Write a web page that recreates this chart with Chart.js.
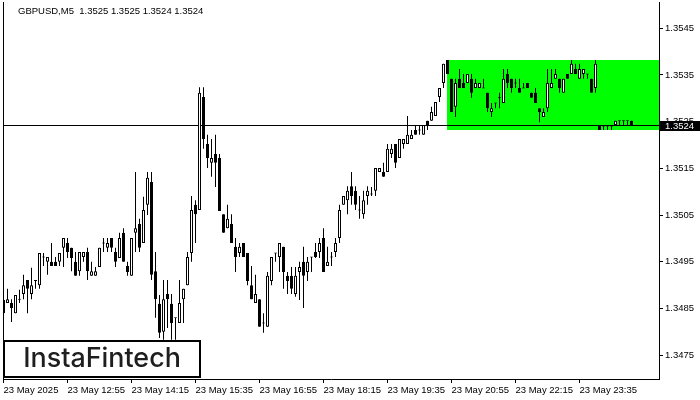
<!DOCTYPE html>
<html>
<head>
<meta charset="utf-8">
<script src="https://cdn.jsdelivr.net/npm/chart.js@4.4.1/dist/chart.umd.min.js"></script>
<style>
html,body{margin:0;padding:0;background:#fff;}
#wrap{width:700px;height:400px;position:relative;}
</style>
</head>
<body>
<div id="wrap"><canvas id="c" width="700" height="400"></canvas></div>
<script>
// ---- data (GBPUSD, M5) ----
const symbolTitle = "GBPUSD,M5  1.3525 1.3525 1.3524 1.3524";
const timeLabels = ["23 May 2025","23 May 12:55","23 May 14:15","23 May 15:35","23 May 16:55","23 May 18:15","23 May 19:35","23 May 20:55","23 May 22:15","23 May 23:35"];
const timeLabelBars = [0,16,32,48,64,80,96,112,128,144];
const priceTicks = [1.3475,1.3485,1.3495,1.3505,1.3515,1.3525,1.3535,1.3545];
const lastPrice = 1.35243;
const patternTop = 1.35382;
const patternBottom = 1.35232;
const patternStartBar = 110.9;
const logoText = "InstaFintech";

const opens = [1.34840,1.34862,1.34862,1.34840,1.34870,1.34881,1.34911,1.34881,1.34909,1.34900,
1.34960,1.34950,1.34950,1.34950,1.34950,1.34980,1.34990,1.34980,1.34950,1.34930,
1.34960,1.34971,1.34920,1.34920,1.34939,1.34990,1.34980,1.35001,1.34971,1.34958,
1.35012,1.34941,1.34920,1.35012,1.35031,1.34990,1.35072,1.35121,1.34930,1.34860,
1.34800,1.34881,1.34860,1.34830,1.34819,1.34870,1.34900,1.34969,1.35072,1.35061,
1.35303,1.35202,1.35162,1.35181,1.35172,1.35052,1.35022,1.35031,1.34982,1.34969,
1.34990,1.34969,1.34900,1.34862,1.34870,1.34819,1.34811,1.34909,1.34969,1.34960,
1.34982,1.34920,1.34920,1.34881,1.34928,1.34950,1.34928,1.34960,1.34971,1.34971,
1.35001,1.34941,1.34960,1.34971,1.35001,1.35072,1.35082,1.35112,1.35102,1.35061,
1.35052,1.35091,1.35095,1.35102,1.35142,1.35142,1.35142,1.35181,1.35202,1.35172,
1.35202,1.35202,1.35213,1.35232,1.35232,1.35222,1.35252,1.35252,1.35262,1.35303,
1.35333,1.35382,1.35342,1.35282,1.35342,1.35333,1.35333,1.35342,1.35322,1.35322,
1.35322,1.35312,1.35271,1.35290,1.35301,1.35290,1.35352,1.35342,1.35333,1.35322,
1.35322,1.35333,1.35312,1.35312,1.35279,1.35260,1.35279,1.35322,1.35342,1.35342,
1.35312,1.35352,1.35352,1.35363,1.35342,1.35352,1.35352,1.35342,1.35322,1.35241,
1.35241,1.35241,1.35241,1.35243,1.35252,1.35252,1.35252,1.35252];

const highs = [1.34900,1.34892,1.34870,1.34879,1.34890,1.34922,1.34911,1.34937,1.34911,1.34969,
1.34969,1.34960,1.34990,1.34960,1.34969,1.35001,1.35001,1.34980,1.34971,1.34971,
1.34971,1.34980,1.34950,1.34939,1.34980,1.35001,1.35001,1.35001,1.34980,1.35012,
1.35022,1.34950,1.35001,1.35142,1.35042,1.35089,1.35142,1.35142,1.34971,1.34879,
1.34911,1.34911,1.34881,1.34830,1.34911,1.34892,1.34971,1.35091,1.35082,1.35324,
1.35324,1.35222,1.35213,1.35222,1.35181,1.35052,1.35072,1.35052,1.35001,1.34990,
1.34990,1.34969,1.34941,1.34922,1.34870,1.34840,1.34928,1.34960,1.34969,1.34990,
1.34982,1.34928,1.34939,1.34939,1.34950,1.34982,1.34960,1.34960,1.34990,1.35001,
1.35022,1.34982,1.34971,1.35001,1.35072,1.35091,1.35112,1.35142,1.35112,1.35091,
1.35102,1.35112,1.35110,1.35151,1.35151,1.35162,1.35202,1.35202,1.35202,1.35213,
1.35213,1.35262,1.35232,1.35243,1.35243,1.35243,1.35252,1.35282,1.35292,1.35322,
1.35374,1.35382,1.35342,1.35342,1.35363,1.35352,1.35352,1.35352,1.35342,1.35333,
1.35342,1.35312,1.35290,1.35290,1.35312,1.35363,1.35363,1.35342,1.35342,1.35342,
1.35333,1.35333,1.35312,1.35322,1.35279,1.35279,1.35363,1.35363,1.35363,1.35342,
1.35342,1.35352,1.35382,1.35374,1.35374,1.35363,1.35352,1.35342,1.35382,1.35241,
1.35241,1.35241,1.35241,1.35252,1.35252,1.35252,1.35252,1.35252];

const lows = [1.34840,1.34862,1.34821,1.34840,1.34862,1.34870,1.34840,1.34870,1.34892,1.34892,
1.34941,1.34922,1.34941,1.34941,1.34941,1.34939,1.34958,1.34930,1.34920,1.34920,
1.34950,1.34911,1.34920,1.34920,1.34939,1.34971,1.34971,1.34971,1.34939,1.34958,
1.34950,1.34920,1.34920,1.34971,1.34971,1.34990,1.35050,1.34911,1.34830,1.34787,
1.34783,1.34808,1.34783,1.34783,1.34819,1.34819,1.34900,1.34950,1.34990,1.35061,
1.35192,1.35151,1.35132,1.35110,1.35059,1.35012,1.35022,1.34990,1.34928,1.34960,
1.34960,1.34900,1.34870,1.34862,1.34811,1.34798,1.34811,1.34900,1.34950,1.34928,
1.34892,1.34881,1.34881,1.34875,1.34868,1.34851,1.34909,1.34928,1.34958,1.34958,
1.34928,1.34941,1.34941,1.34960,1.34990,1.35072,1.35052,1.35072,1.35061,1.35042,
1.35042,1.35072,1.35091,1.35091,1.35142,1.35132,1.35142,1.35172,1.35151,1.35172,
1.35192,1.35202,1.35213,1.35222,1.35222,1.35222,1.35232,1.35252,1.35262,1.35292,
1.35322,1.35352,1.35271,1.35260,1.35322,1.35322,1.35333,1.35301,1.35322,1.35322,
1.35322,1.35271,1.35260,1.35279,1.35279,1.35290,1.35322,1.35312,1.35322,1.35312,
1.35322,1.35322,1.35301,1.35290,1.35249,1.35260,1.35271,1.35322,1.35342,1.35312,
1.35312,1.35342,1.35352,1.35352,1.35342,1.35342,1.35342,1.35312,1.35312,1.35232,
1.35232,1.35232,1.35232,1.35243,1.35243,1.35243,1.35243,1.35243];

const closes = [1.34868,1.34870,1.34851,1.34879,1.34870,1.34900,1.34892,1.34900,1.34911,1.34969,
1.34960,1.34960,1.34941,1.34941,1.34969,1.35001,1.34971,1.34958,1.34920,1.34971,
1.34971,1.34930,1.34930,1.34930,1.34980,1.34990,1.34990,1.34980,1.34950,1.35001,
1.34950,1.34928,1.35001,1.35022,1.34980,1.35061,1.35130,1.34922,1.34870,1.34798,
1.34870,1.34870,1.34819,1.34830,1.34862,1.34892,1.34960,1.35061,1.35052,1.35312,
1.35213,1.35172,1.35172,1.35162,1.35059,1.35012,1.35042,1.34990,1.34960,1.34982,
1.34960,1.34909,1.34870,1.34881,1.34811,1.34819,1.34920,1.34960,1.34969,1.34990,
1.34928,1.34909,1.34892,1.34920,1.34939,1.34920,1.34950,1.34960,1.34960,1.34990,
1.34928,1.34950,1.34960,1.34990,1.35061,1.35091,1.35102,1.35091,1.35072,1.35061,
1.35082,1.35102,1.35095,1.35151,1.35151,1.35132,1.35192,1.35192,1.35162,1.35213,
1.35213,1.35222,1.35222,1.35222,1.35232,1.35243,1.35243,1.35271,1.35292,1.35322,
1.35374,1.35352,1.35271,1.35333,1.35322,1.35322,1.35352,1.35312,1.35333,1.35333,
1.35322,1.35279,1.35279,1.35290,1.35301,1.35342,1.35333,1.35322,1.35333,1.35312,
1.35322,1.35322,1.35301,1.35290,1.35271,1.35271,1.35333,1.35333,1.35352,1.35322,
1.35342,1.35342,1.35374,1.35352,1.35363,1.35363,1.35352,1.35312,1.35374,1.35232,
1.35241,1.35241,1.35241,1.35252,1.35252,1.35252,1.35252,1.35243];

// ---- chart ----
const FONT = '"Liberation Sans", Arial, sans-serif';
const dojiHalf = 0.0000107;
const bodyData = opens.map((o, i) => {
  const c = closes[i];
  let lo = Math.min(o, c), hi = Math.max(o, c);
  if (hi - lo < 2 * dojiHalf) { const m = (hi + lo) / 2; lo = m - dojiHalf; hi = m + dojiHalf; }
  return {x: i, y: [lo, hi]};
});
const wickData = opens.map((o, i) => ({x: i, y: [lows[i], highs[i]]}));
const bodyColors = opens.map((o, i) => closes[i] >= o ? '#ffffff' : '#000000');

function noPad(s) { s.paddingTop = 0; s.paddingBottom = 0; s.paddingLeft = 0; s.paddingRight = 0; }

const overlay = {
  id: 'overlay',
  beforeDatasetsDraw(chart) {
    const {ctx, chartArea: a, scales: {x, y}} = chart;
    ctx.save();
    const x0 = Math.round(x.getPixelForValue(patternStartBar));
    const y0 = Math.round(y.getPixelForValue(patternTop));
    const y1 = Math.round(y.getPixelForValue(patternBottom));
    ctx.fillStyle = '#00ff00';
    ctx.fillRect(x0, y0, a.right - x0, y1 - y0);
    const py = Math.round(y.getPixelForValue(lastPrice)) + 0.5;
    ctx.strokeStyle = '#000'; ctx.lineWidth = 1;
    ctx.beginPath(); ctx.moveTo(a.left, py); ctx.lineTo(a.right, py); ctx.stroke();
    ctx.restore();
  },
  afterDraw(chart) {
    const {ctx, chartArea: a, scales: {y}} = chart;
    ctx.save();
    // left frame
    ctx.strokeStyle = '#000'; ctx.lineWidth = 1;
    ctx.beginPath(); ctx.moveTo(a.left + 0.5, a.top); ctx.lineTo(a.left + 0.5, a.bottom); ctx.stroke();
    // title
    ctx.fillStyle = '#000';
    ctx.font = '9.5px ' + FONT;
    ctx.textBaseline = 'middle'; ctx.textAlign = 'left';
    ctx.fillText(symbolTitle, 18, 11);
    // last price label
    const py = Math.round(y.getPixelForValue(lastPrice));
    ctx.fillStyle = '#000';
    ctx.fillRect(a.right + 1, py - 4, 700 - a.right - 1, 10);
    ctx.fillStyle = '#fff';
    ctx.fillText(lastPrice.toFixed(4), a.right + 6, py + 1);
    // logo
    ctx.fillStyle = '#fff';
    ctx.fillRect(4, 341, 196, 36);
    ctx.strokeStyle = '#000'; ctx.lineWidth = 2;
    ctx.strokeRect(4, 341, 196, 36);
    let fs = 26;
    ctx.font = '500 ' + fs + 'px Inter, "Open Sans", sans-serif';
    const w = ctx.measureText(logoText).width;
    fs = fs * 158 / w;
    ctx.font = '500 ' + fs.toFixed(1) + 'px Inter, "Open Sans", sans-serif';
    ctx.fillStyle = '#1e1e1e';
    ctx.textAlign = 'center'; ctx.textBaseline = 'middle';
    ctx.fillText(logoText, 102, 359);
    ctx.restore();
  }
};

new Chart(document.getElementById('c'), {
  type: 'bar',
  data: {
    datasets: [
      {label: 'body', data: bodyData, backgroundColor: bodyColors, borderColor: '#000', borderWidth: 1,
       borderSkipped: false, barThickness: 3, grouped: false, inflateAmount: 0},
      {label: 'wick', data: wickData, backgroundColor: '#000', borderWidth: 0,
       barThickness: 1, grouped: false, inflateAmount: 0}
    ]
  },
  options: {
    responsive: false,
    animation: false,
    devicePixelRatio: 1,
    layout: {padding: {left: 3, top: 2, right: 0, bottom: 0}},
    plugins: {legend: {display: false}, tooltip: {enabled: false}, title: {display: false}},
    scales: {
      x: {
        type: 'linear', offset: false, min: -0.125, max: 163.875,
        afterBuildTicks: s => { s.ticks = timeLabelBars.map(v => ({value: v})); },
        afterFit: s => { s.height = 21; noPad(s); },
        grid: {drawOnChartArea: false, drawTicks: true, tickLength: 4, color: '#000', offset: false},
        border: {display: true, color: '#000'},
        ticks: {autoSkip: false, maxRotation: 0, minRotation: 0, align: 'start', padding: 2,
                color: '#000', font: {family: FONT, size: 9.5},
                callback: (v, idx) => timeLabels[idx]}
      },
      y: {
        type: 'linear', position: 'right', min: 1.34699, max: 1.355063,
        afterBuildTicks: s => { s.ticks = priceTicks.map(v => ({value: v})); },
        afterFit: s => { s.width = 41; noPad(s); },
        grid: {drawOnChartArea: false, drawTicks: true, tickLength: 4, color: '#000'},
        border: {display: true, color: '#000'},
        ticks: {autoSkip: false, padding: 2, color: '#000', font: {family: FONT, size: 9.5},
                callback: v => v.toFixed(4)}
      }
    }
  },
  plugins: [overlay]
});
</script>
</body>
</html>
